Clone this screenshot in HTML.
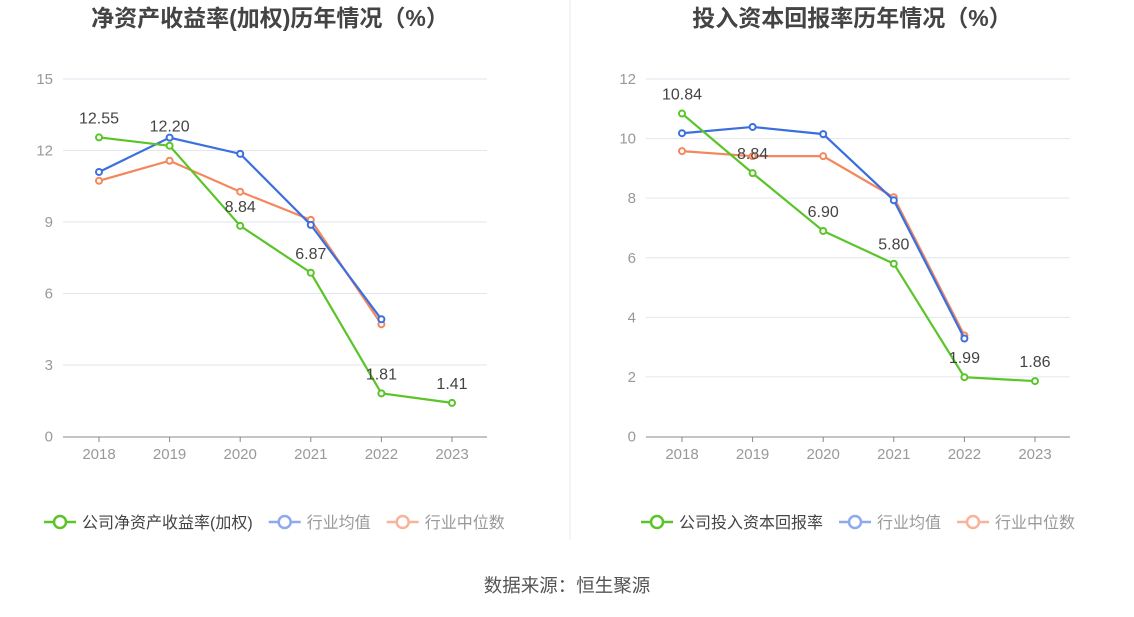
<!DOCTYPE html>
<html><head><meta charset="utf-8"><style>
body{margin:0;background:#fff;font-family:"Liberation Sans","Noto Sans CJK SC",sans-serif;}
svg text{font-family:"Liberation Sans","Noto Sans CJK SC",sans-serif;}
</style></head><body>
<svg id="s" width="1134" height="612">
<line x1="570" y1="0" x2="570" y2="540" stroke="#e8e8e8"/>
<text x="567" y="592" text-anchor="middle" font-size="18.5" fill="#555">数据来源：恒生聚源</text>
</svg>
<script>
const years=["2018","2019","2020","2021","2022","2023"];
const leftCompany=[12.55,12.20,8.84,6.87,1.81,1.41];
const leftAvg=[11.1,12.54,11.86,8.88,4.92];
const leftMedian=[10.73,11.57,10.27,9.09,4.71];
const leftTicks=[0,3,6,9,12,15];
const rightCompany=[10.84,8.84,6.90,5.80,1.99,1.86];
const rightAvg=[10.18,10.39,10.15,7.93,3.29];
const rightMedian=[9.58,9.41,9.41,8.03,3.39];
const rightTicks=[0,2,4,6,8,10,12];
const NS="http://www.w3.org/2000/svg";
const svg=document.getElementById('s');
function mk(t,a,p){const e=document.createElementNS(NS,t);for(const k in a)e.setAttribute(k,a[k]);(p||svg).appendChild(e);return e;}
function chart(cfg){
 const g=mk('g',{});
 
 
 const max=cfg.ticks[cfg.ticks.length-1];
 const y=v=>436.5-v/max*357.5;
 const x=i=>cfg.x0+i*cfg.step;
 const t=mk('text',{x:cfg.cx,y:26,'text-anchor':'middle','font-size':23,'font-weight':'bold',fill:'#444'},g);t.textContent=cfg.title;
 
 
 cfg.ticks.forEach(v=>{
  if(v>0){const l=mk('line',{x1:cfg.ax0,x2:cfg.ax1,y1:y(v),y2:y(v),stroke:'#e3e6ef'},g);
  
  }
  const tt=mk('text',{x:cfg.ax0-10,y:y(v)+5,'text-anchor':'end','font-size':15,fill:'#999'},g);tt.textContent=v;
  
  
 });
 const ax=mk('line',{x1:cfg.ax0,x2:cfg.ax1,y1:437,y2:437,stroke:'#888'},g);
 
 
 years.forEach((yr,i)=>{
  mk('line',{x1:x(i),x2:x(i),y1:437,y2:442,stroke:'#888'},g);
  const tt=mk('text',{x:x(i),y:459,'text-anchor':'middle','font-size':15,fill:'#999'},g);tt.textContent=yr;
  
  
 });
 const series=[[cfg.median,'#f4875b','industry-median-line'],[cfg.avg,'#3b6fe0','industry-average-line'],[cfg.company,'#5ac429','company-line']];
 series.forEach(([d,c,n])=>{
  const p=mk('polyline',{points:d.map((v,i)=>x(i)+','+y(v)).join(' '),fill:'none',stroke:c,'stroke-width':2.2},g);
  
  
  d.forEach((v,i)=>{const m=mk('circle',{cx:x(i),cy:y(v),r:3,fill:'#fff',stroke:c,'stroke-width':2},g);
   
   });
 });
 cfg.company.forEach((v,i)=>{
  const tt=mk('text',{x:x(i),y:y(v)-14,'text-anchor':'middle','font-size':16,fill:'#444'},g);tt.textContent=v.toFixed(2);
  
  
 });
 let lx=cfg.legX;
 [[cfg.legName,'#5ac429'],['行业均值','#8fa9ee'],['行业中位数','#f8b49a']].forEach(([n,c],k)=>{
  const lg=mk('g',{},g);
  
  
  mk('line',{x1:lx,x2:lx+32,y1:522,y2:522,stroke:c,'stroke-width':2.5},lg);
  mk('circle',{cx:lx+16,cy:522,r:6,fill:'#fff',stroke:c,'stroke-width':2.5},lg);
  const tt=mk('text',{x:lx+38,y:528,'font-size':16,fill:k==0?'#444':'#999'},lg);tt.textContent=n;
  lx+=38+tt.getComputedTextLength()+16;
 });
}
chart({name:'roe-chart',title:'净资产收益率(加权)历年情况（%）',cx:270,x0:99,step:70.6,ax0:63,ax1:487,ticks:leftTicks,company:leftCompany,avg:leftAvg,median:leftMedian,legName:'公司净资产收益率(加权)',legX:44});
chart({name:'roic-chart',title:'投入资本回报率历年情况（%）',cx:852,x0:682,step:70.6,ax0:646,ax1:1070,ticks:rightTicks,company:rightCompany,avg:rightAvg,median:rightMedian,legName:'公司投入资本回报率',legX:641});
</script>
</body></html>
